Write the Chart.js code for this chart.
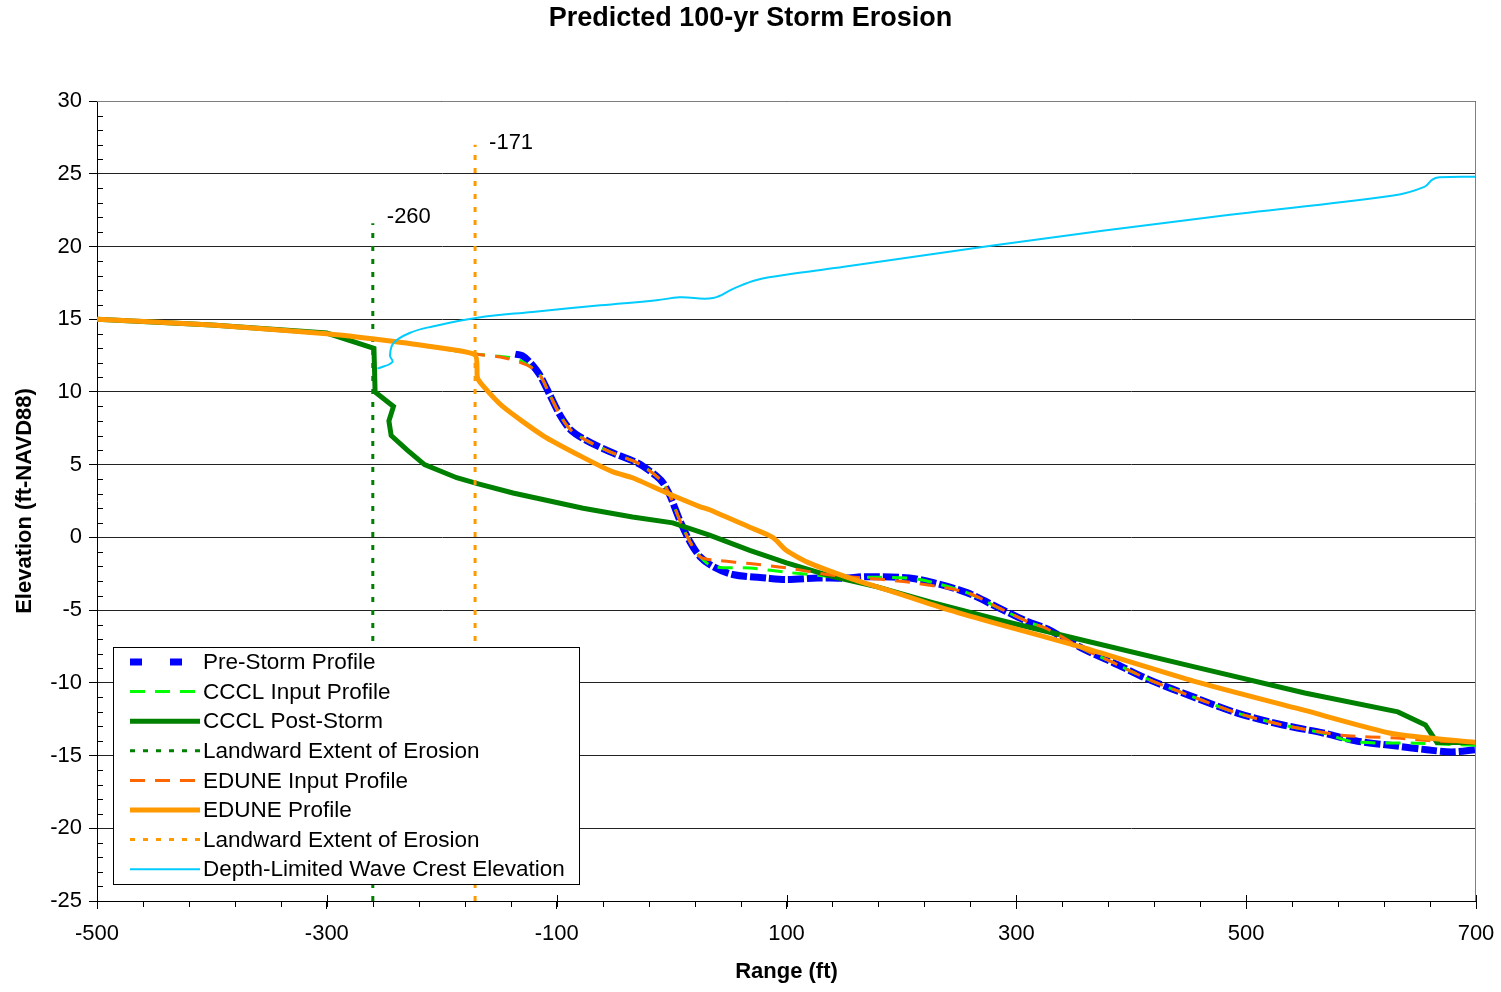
<!DOCTYPE html>
<html>
<head>
<meta charset="utf-8">
<script src="https://cdn.jsdelivr.net/npm/chart.js@4.4.1/dist/chart.umd.min.js"></script>
<style>
  body { margin: 0; background: #fff; }
  #wrap { width: 1501px; height: 992px; }
</style>
</head>
<body>
<div id="wrap"><canvas id="erosionChart"></canvas></div>
<script>
// axis ticks
var rangeTicks = [-500, -300, -100, 100, 300, 500, 700];
var elevTicks = [-25, -20, -15, -10, -5, 0, 5, 10, 15, 20, 25, 30];

// Pre-Storm Profile
var preStormX = [-136, -130, -124, -115, -106, -97, -88, -75, -54, -32, -25, -13, -7, -1, 7, 16, 25, 36, 53, 83, 100, 127, 150, 170, 207, 227, 257, 286, 310, 327, 359, 384, 416, 455, 493, 532, 567, 596, 631, 657, 679, 700];
var preStormY = [12.6, 12.5, 12.1, 11.2, 9.8, 8.4, 7.4, 6.7, 5.9, 5.2, 4.9, 4.2, 3.7, 2.8, 1.2, -0.3, -1.35, -2.0, -2.55, -2.8, -2.9, -2.8, -2.8, -2.7, -2.8, -3.1, -3.8, -4.9, -5.8, -6.3, -7.7, -8.6, -9.8, -11.0, -12.1, -12.9, -13.45, -14.0, -14.35, -14.6, -14.75, -14.6];

// CCCL Input Profile
var ccclInX = [-500, -400, -300, -250, -208, -171, -150, -136, -126, -115, -106, -97, -88, -75, -54, -32, -25, -13, -7, -1, 7, 16, 25, 36, 68, 100, 127, 155, 170, 207, 227, 257, 286, 310, 327, 359, 384, 416, 455, 493, 532, 567, 593, 647, 700];
var ccclInY = [15.0, 14.6, 14.0, 13.55, 13.1, 12.6, 12.45, 12.3, 11.9, 11.2, 9.8, 8.4, 7.4, 6.7, 5.9, 5.2, 4.9, 4.2, 3.7, 2.8, 1.2, -0.3, -1.35, -2.0, -2.1, -2.4, -2.6, -2.8, -2.75, -2.8, -3.1, -3.8, -4.9, -5.8, -6.3, -7.7, -8.6, -9.8, -11.0, -12.1, -12.9, -13.45, -14.05, -14.15, -14.3];

// CCCL Post-Storm
var ccclPostX = [-500, -400, -300, -259, -258, -242, -246, -244, -230, -215, -187, -169, -138, -77, -34, 1, 33, 68, 100, 140, 179, 228, 286, 349, 455, 551, 632, 656, 666, 700];
var ccclPostY = [15.0, 14.6, 14.05, 13.0, 10.0, 9.0, 8.0, 7.0, 6.0, 5.0, 4.1, 3.7, 3.05, 2.0, 1.4, 1.0, 0.15, -0.9, -1.75, -2.7, -3.4, -4.5, -5.7, -6.9, -8.9, -10.7, -12.0, -12.9, -14.1, -14.1];

// EDUNE Input Profile
var eduneInX = [-500, -400, -300, -250, -208, -171, -149, -126, -115, -106, -97, -88, -75, -54, -32, -25, -13, -7, -1, 7, 16, 25, 36, 68, 100, 140, 184, 213, 257, 286, 310, 327, 359, 384, 416, 455, 493, 532, 583, 631, 663, 700];
var eduneInY = [15.0, 14.6, 14.0, 13.55, 13.1, 12.6, 12.4, 11.85, 11.2, 9.8, 8.4, 7.4, 6.7, 5.9, 5.2, 4.9, 4.2, 3.7, 2.8, 1.2, -0.3, -1.35, -1.55, -1.8, -2.1, -2.6, -2.9, -3.15, -3.8, -4.9, -5.8, -6.3, -7.7, -8.6, -9.8, -11.0, -12.1, -12.9, -13.6, -13.8, -14.0, -14.1];

// EDUNE Profile
var eduneX = [-500, -400, -300, -250, -208, -171, -169, -165, -147, -112, -77, -51, -34, -4, 25, 33, 68, 88, 100, 118, 155, 199, 242, 286, 359, 455, 551, 628, 700];
var eduneY = [15.0, 14.6, 14.0, 13.55, 13.1, 12.55, 11.0, 10.5, 9.0, 7.0, 5.5, 4.5, 4.1, 3.05, 2.1, 1.9, 0.7, 0.0, -0.9, -1.7, -2.8, -3.9, -5.0, -6.0, -7.6, -9.9, -11.9, -13.5, -14.1];

// Landward Extent of Erosion
var ccclLandX = [-260, -260];
var ccclLandY = [-25, 21.6];
var eduneLandX = [-171, -171];
var eduneLandY = [-25, 27.0];
var landLabels = ['-260', '-171'];
var landLabelY = [22.0, 27.1];

// Depth-Limited Wave Crest Elevation
var waveX = [-256, -243, -245, -242, -228, -208, -169, -121, -62, -13, 7, 36, 54, 74, 108, 150, 278, 472, 628, 655, 662, 668, 700];
var waveY = [11.6, 12.05, 12.5, 13.35, 14.05, 14.5, 15.1, 15.5, 15.95, 16.3, 16.5, 16.45, 17.1, 17.7, 18.15, 18.6, 20.05, 22.05, 23.5, 24.1, 24.6, 24.75, 24.8];

var chartTitle = 'Predicted 100-yr Storm Erosion';

function pts(xs, ys) {
    return xs.map(function(v, i) { return {x: v, y: ys[i]}; });
}

Chart.defaults.font.family = "'Liberation Sans', Arial, sans-serif";
Chart.defaults.color = '#000';

var datasets = [
    {label: 'Pre-Storm Profile', data: pts(preStormX, preStormY), borderColor: '#0000FF', borderWidth: 7, borderDash: [16, 3], tension: 0.3, legendDash: [12, 28]},
    {label: 'CCCL Input Profile', data: pts(ccclInX, ccclInY), borderColor: '#00FF00', borderWidth: 3, borderDash: [15, 10], tension: 0.3},
    {label: 'CCCL Post-Storm', data: pts(ccclPostX, ccclPostY), borderColor: '#008000', borderWidth: 5, tension: 0},
    {label: 'Landward Extent of Erosion', data: pts(ccclLandX, ccclLandY), borderColor: '#008000', borderWidth: 3, borderDash: [5, 8], tension: 0},
    {label: 'EDUNE Input Profile', data: pts(eduneInX, eduneInY), borderColor: '#FF6600', borderWidth: 3, borderDash: [15, 10], tension: 0.3},
    {label: 'EDUNE Profile', data: pts(eduneX, eduneY), borderColor: '#FF9900', borderWidth: 5, tension: 0.2},
    {label: 'Landward Extent of Erosion', data: pts(eduneLandX, eduneLandY), borderColor: '#FF9900', borderWidth: 3, borderDash: [5, 8], tension: 0},
    {label: 'Depth-Limited Wave Crest Elevation', data: pts(waveX, waveY), borderColor: '#00CCFF', borderWidth: 2, tension: 0.4}
];
datasets.forEach(function(d, i) {
    d.showLine = true;
    d.pointRadius = 0;
    d.fill = false;
    d.order = datasets.length - i; // later series on top, like the source
    d.borderCapStyle = 'butt';
});

// title, borders, minor ticks, value labels and the boxed legend
var extras = {
    id: 'extras',
    afterDatasetsDraw: function(chart) {
        var ctx = chart.ctx, a = chart.chartArea;
        var xs = chart.scales.x, ys = chart.scales.y;
        ctx.save();

        // title centred on the whole picture
        ctx.fillStyle = '#000';
        ctx.font = "bold 27px 'Liberation Sans', Arial, sans-serif";
        ctx.textAlign = 'center';
        ctx.textBaseline = 'middle';
        ctx.fillText(chartTitle, chart.width / 2, 19);

        ctx.lineWidth = 1;
        ctx.strokeStyle = '#808080';
        ctx.beginPath();
        ctx.moveTo(a.left, a.top + 0.5);
        ctx.lineTo(a.right - 0.5, a.top + 0.5);
        ctx.lineTo(a.right - 0.5, a.bottom);
        ctx.stroke();

        ctx.strokeStyle = '#000';
        ctx.beginPath();
        for (var v = -25; v <= 30; v++) {
            if (v % 5 === 0) continue;
            var py = Math.round(ys.getPixelForValue(v)) + 0.5;
            ctx.moveTo(a.left, py);
            ctx.lineTo(a.left + 6, py);
        }
        for (var r = -500; r <= 700; r += 40) {
            var px = Math.round(xs.getPixelForValue(r)) + 0.5;
            ctx.moveTo(px, a.bottom);
            ctx.lineTo(px, a.bottom + 6);
        }
        rangeTicks.forEach(function(t) {
            var px = Math.round(xs.getPixelForValue(t)) + 0.5;
            ctx.moveTo(px, a.bottom - 6);
            ctx.lineTo(px, a.bottom);
        });
        ctx.stroke();

        ctx.font = "22px 'Liberation Sans', Arial, sans-serif";
        ctx.textAlign = 'left';
        ctx.fillText(landLabels[0], xs.getPixelForValue(ccclLandX[0]) + 14, ys.getPixelForValue(landLabelY[0]));
        ctx.fillText(landLabels[1], xs.getPixelForValue(eduneLandX[0]) + 14, ys.getPixelForValue(landLabelY[1]));

        // legend box
        var bx = 113, by = 647, bw = 466, bh = 237;
        ctx.fillStyle = '#fff';
        ctx.fillRect(bx, by, bw, bh);
        ctx.strokeStyle = '#000';
        ctx.strokeRect(bx + 0.5, by + 0.5, bw, bh);
        var rowY = 662;
        ctx.font = "22.5px 'Liberation Sans', Arial, sans-serif";
        chart.data.datasets.forEach(function(d) {
            ctx.save();
            ctx.strokeStyle = d.borderColor;
            ctx.lineWidth = d.borderWidth;
            ctx.setLineDash(d.legendDash || d.borderDash || []);
            ctx.beginPath();
            ctx.moveTo(130, rowY);
            ctx.lineTo(200, rowY);
            ctx.stroke();
            ctx.restore();
            ctx.fillStyle = '#000';
            ctx.fillText(d.label, 203, rowY + 1);
            rowY += 29.6;
        });
        ctx.restore();
    }
};

var ctx = document.getElementById('erosionChart').getContext('2d');
var chart = new Chart(ctx, {
    type: 'scatter',
    data: { datasets: datasets },
    options: {
        responsive: true,
        maintainAspectRatio: false,
        animation: false,
        devicePixelRatio: 1,
        layout: { padding: { left: 0, right: 25, top: 101, bottom: 0 } },
        plugins: {
            legend: { display: false },
            tooltip: { enabled: false },
            title: { display: false }
        },
        scales: {
            x: {
                type: 'linear',
                min: -500,
                max: 700,
                afterBuildTicks: function(s) { s.ticks = rangeTicks.map(function(v) { return {value: v}; }); },
                afterFit: function(s) { s.height = 91; s.paddingLeft = 0; s.paddingRight = 0; },
                grid: { drawOnChartArea: false, color: '#000', tickLength: 8 },
                border: { color: '#000', width: 1 },
                ticks: { color: '#000', font: { size: 22 }, padding: 12, maxRotation: 0, autoSkip: false },
                title: { display: true, text: 'Range (ft)', color: '#000', font: { size: 22, weight: 'bold' }, padding: { top: 4, bottom: 7 } }
            },
            y: {
                type: 'linear',
                min: -25,
                max: 30,
                afterBuildTicks: function(s) { s.ticks = elevTicks.map(function(v) { return {value: v}; }); },
                afterFit: function(s) { s.width = 97; s.paddingTop = 0; s.paddingBottom = 0; },
                grid: { color: '#222', tickColor: '#000', tickLength: 8 },
                border: { color: '#000', width: 1 },
                ticks: { color: '#000', font: { size: 22 }, padding: 7 },
                title: { display: true, text: 'Elevation (ft-NAVD88)', color: '#000', font: { size: 22, weight: 'bold' }, padding: { top: 12, bottom: 4 } }
            }
        }
    },
    plugins: [extras]
});
</script>
</body>
</html>
